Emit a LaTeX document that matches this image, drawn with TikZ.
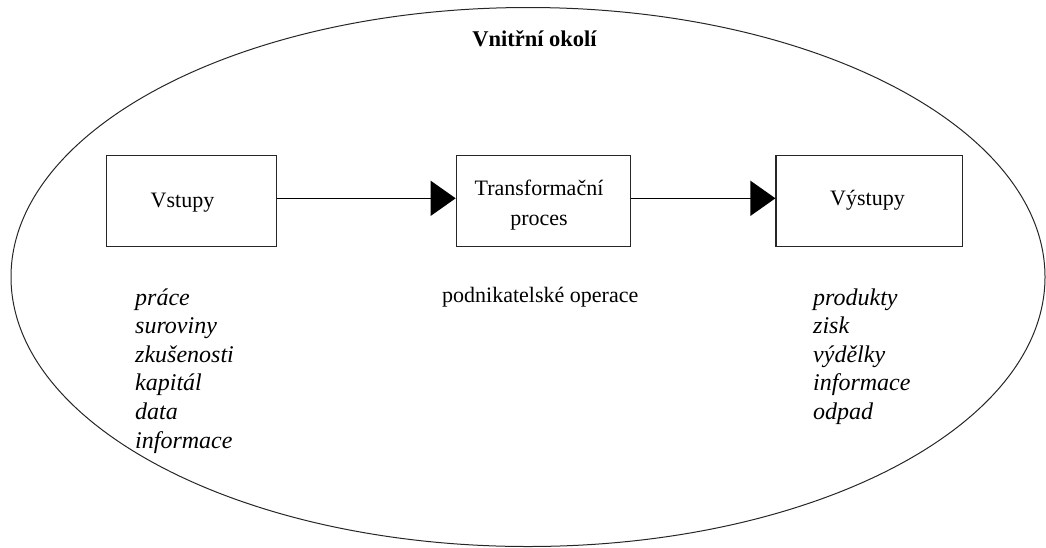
\documentclass[tikz,border=0pt]{standalone}
\usepackage{fontspec}
\setmainfont{Liberation Serif}
\usetikzlibrary{arrows.meta,shapes.geometric}
\tikzset{
  boxnode/.style={draw=black!85, line width=1.3pt, minimum width=#1, minimum height=91.5pt, inner sep=0pt},
  lbl/.style={font=\fontsize{22}{29}\selectfont, inner sep=0pt, anchor=base},
  itm/.style={font=\fontsize{24}{29}\selectfont\itshape, inner sep=0pt, anchor=base west},
  flow/.style={line width=1.3pt, -{Triangle[length=25pt,width=35pt]}},
}
\begin{document}
\begin{tikzpicture}[x=1pt,y=-1pt]
\useasboundingbox (0,0) rectangle (1046,547);
\node[draw=black!85, line width=1pt, ellipse, minimum width=1034pt, minimum height=539pt, inner sep=0pt] (env) at (528,277) {};
\node[lbl, font=\fontsize{22.5}{29}\selectfont\bfseries] (title) at (534.5,46) {Vnitřní okolí};

\node[boxnode=170pt] (vstupy) at (191.7,200.9) {};
\node[boxnode=174pt] (trans) at (543.3,200.9) {};
\node[boxnode=186.7pt] (vystupy) at (869.4,200.9) {};

\node[lbl] (tv) at (182.5,207) {Vstupy};
\node[lbl] (tt1) at (539,195) {Transformační};
\node[lbl] (tt2) at (539,225) {proces};
\node[lbl] (tw) at (867.5,205.5) {Výstupy};

\draw[flow] ([yshift=2.6pt]vstupy.east) -- ([yshift=2.6pt]trans.west);
\draw[flow] ([yshift=2.6pt]trans.east) -- ([yshift=2.6pt]vystupy.west);

\node[lbl, anchor=base west] (po) at (442,302) {podnikatelské operace};

\foreach \t [count=\i from 0] in {práce,suroviny,zkušenosti,kapitál,data,informace}
  \node[itm] (in\i) at (135,305+28.6*\i) {\t};
\foreach \t [count=\i from 0] in {produkty,zisk,výdělky,informace,odpad}
  \node[itm] (out\i) at (813,305+28.6*\i) {\t};
\end{tikzpicture}
\end{document}
